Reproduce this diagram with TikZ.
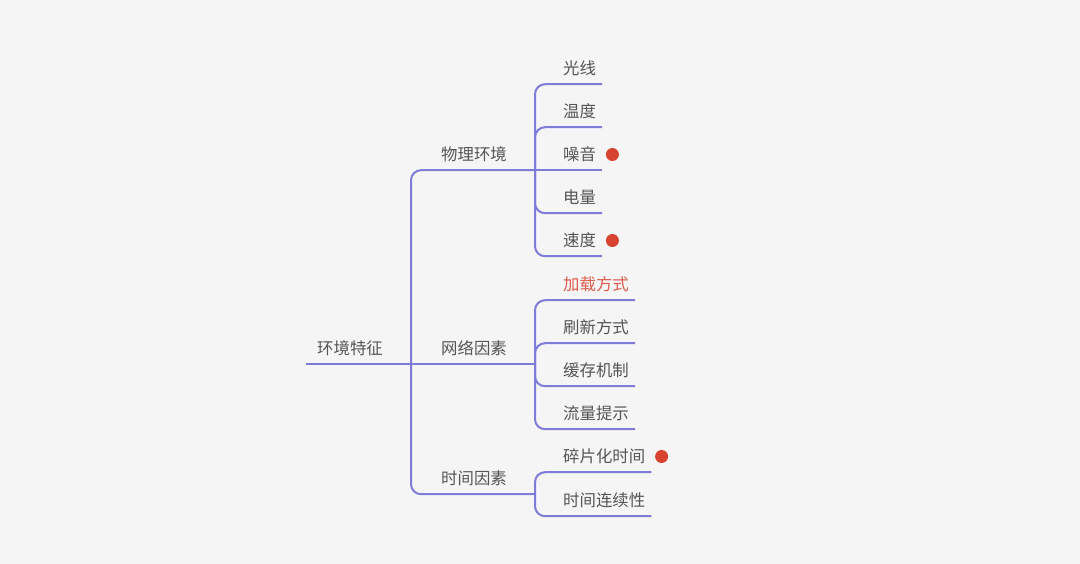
\documentclass[tikz,border=0pt]{standalone}
\usepackage{fontspec}
\setmainfont{Noto Sans CJK SC}
\usepackage{xcolor}
\usetikzlibrary{positioning,calc}
\definecolor{fundo}{HTML}{F5F5F5}
\definecolor{linha}{HTML}{7F7BD8}
\definecolor{texto}{HTML}{555555}
\definecolor{destaque}{HTML}{E05A4C}
\definecolor{marca}{HTML}{D8432F}
\tikzset{
    topico/.style={
        anchor=base west,
        inner xsep=0pt,
        inner ysep=9.5pt,
        text height=12pt,
        text depth=0pt,
        text=texto,
        font=\fontsize{16.4}{19}\selectfont
    },
    ramo/.style={draw=linha, line width=2pt, rounded corners=10pt},
    alerta/.style={circle, fill=marca, minimum size=13pt, inner sep=0pt}
}
\begin{document}
\begin{tikzpicture}[x=1pt, y=-1pt]
    \fill[fundo] (0,0) rectangle (1080,564);
    \coordinate (eixoA) at (411,0);
    \coordinate (eixoB) at (535,0);

    % raiz e primeiro nivel
    \node[topico] (raiz) at (317,354.5) {环境特征};
    \node[topico] (fisico) at (441,160.5) {物理环境};
    \node[topico] (rede) at (441,354.5) {网络因素};
    \node[topico] (tempo) at (441,484.5) {时间因素};

    % folhas
    \node[topico] (luz) at (563,74.5) {光线};
    \node[topico] (temperatura) at (563,117.5) {温度};
    \node[topico] (ruido) at (563,160.5) {噪音};
    \node[topico] (bateria) at (563,203.5) {电量};
    \node[topico] (velocidade) at (563,246.5) {速度};
    \node[topico, text=destaque] (carga) at (563,290.5) {加载方式};
    \node[topico] (atualizacao) at (563,333.5) {刷新方式};
    \node[topico] (cache) at (563,376.5) {缓存机制};
    \node[topico] (trafego) at (563,419.5) {流量提示};
    \node[topico] (fragmentado) at (563,462.5) {碎片化时间};
    \node[topico] (continuidade) at (563,506.5) {时间连续性};

    \node[alerta, right=9.5pt of ruido] (alertaRuido) {};
    \node[alerta, right=9.5pt of velocidade] (alertaVelocidade) {};
    \node[alerta, right=9.5pt of fragmentado] (alertaFragmentado) {};

    \draw[ramo] ([xshift=-11pt]raiz.south west) -- (raiz.south -| eixoA);
    \draw[ramo] (raiz.south -| eixoA) |- (fisico.south -| eixoB);
    \draw[ramo] (raiz.south -| eixoA) -- (rede.south -| eixoB);
    \draw[ramo] (raiz.south -| eixoA) |- (tempo.south -| eixoB);

    \foreach \folha in {luz,temperatura,bateria,velocidade}
        \draw[ramo] (fisico.south -| eixoB) |- ([xshift=6pt]\folha.south east);
    \draw[ramo] (fisico.south -| eixoB) -- ([xshift=6pt]ruido.south east);
    \foreach \folha in {carga,atualizacao,cache,trafego}
        \draw[ramo] (rede.south -| eixoB) |- ([xshift=6pt]\folha.south east);
    \foreach \folha in {fragmentado,continuidade}
        \draw[ramo] (tempo.south -| eixoB) |- ([xshift=6pt]\folha.south east);
\end{tikzpicture}
\end{document}
